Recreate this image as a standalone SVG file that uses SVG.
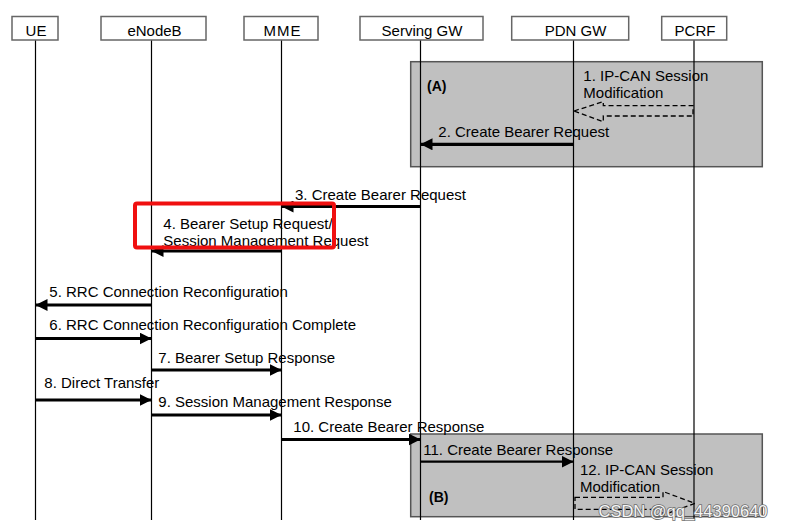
<svg xmlns="http://www.w3.org/2000/svg" width="786" height="530" viewBox="0 0 786 530">
<defs>
<style>
text{font-family:"Liberation Sans",Arial,sans-serif;font-size:15px;fill:#000}
.hdr rect{fill:#fff;stroke:#666;stroke-width:1.5}
.hdr text{text-anchor:middle}
.life{stroke:#000;stroke-width:1.2}
.region{fill:#c0c0c0;stroke:#555;stroke-width:1.5}
.msg{stroke:#000;stroke-width:3.2;fill:none;marker-end:url(#ah)}
.thin{stroke-width:2.3}
.dash{fill:none;stroke:#000;stroke-width:1.3;stroke-dasharray:5 3}
.bold{font-weight:bold;font-size:14px}
.wm{font-size:16.5px;fill:#f6f6f6;stroke:#6e6e6e;stroke-width:1.6;paint-order:stroke}
</style>
<marker id="ah" markerUnits="userSpaceOnUse" markerWidth="12" markerHeight="12" refX="12" refY="6" orient="auto">
<path d="M0,0 L12,6 L0,12 z" fill="#000"/>
</marker>
</defs>
<rect width="786" height="530" fill="#fff"/>

<g id="region-A">
<rect class="region" x="410.7" y="61.7" width="351.6" height="105"/>
<text class="bold" x="427" y="91">(A)</text>
</g>
<g id="region-B">
<rect class="region" x="410.7" y="434" width="351.6" height="82.7"/>
<text class="bold" x="429" y="501.7">(B)</text>
</g>

<g id="lifelines">
<line class="life" x1="35.5" y1="40" x2="35.5" y2="520"/>
<line class="life" x1="151.5" y1="40" x2="151.5" y2="520"/>
<line class="life" x1="281.5" y1="40" x2="281.5" y2="520"/>
<line class="life" x1="420.5" y1="40" x2="420.5" y2="520"/>
<line class="life" x1="573.5" y1="40" x2="573.5" y2="520"/>
<line class="life" x1="694" y1="40" x2="694" y2="520"/>
</g>

<g id="UE" class="hdr"><rect x="12" y="16.5" width="46" height="23.5"/><text x="36" y="36">UE</text></g>
<g id="eNodeB" class="hdr"><rect x="101" y="16.5" width="105" height="23.5"/><text x="154.5" y="36">eNodeB</text></g>
<g id="MME" class="hdr"><rect x="244" y="16.5" width="74" height="23.5"/><text x="282.5" y="36" letter-spacing="1">MME</text></g>
<g id="ServingGW" class="hdr"><rect x="360" y="16.5" width="123" height="23.5"/><text x="422" y="36">Serving GW</text></g>
<g id="PDNGW" class="hdr"><rect x="511.7" y="16.5" width="117" height="23.5"/><text x="575.5" y="36">PDN GW</text></g>
<g id="PCRF" class="hdr"><rect x="661.7" y="16.5" width="65" height="23.5"/><text x="695" y="36">PCRF</text></g>

<g id="connectors">
<path class="dash" d="M574,111 L603.3,101.7 L603.3,105.7 L693,105.7 L693,116 L603.3,116 L603.3,121.7 Z"/>
<line class="msg" x1="573.5" y1="144.3" x2="420.5" y2="144.3"/>
<line class="msg" x1="420.5" y1="206.5" x2="281.5" y2="206.5"/>
<line class="msg" x1="281.5" y1="251" x2="151.5" y2="251"/>
<line class="msg" x1="151.5" y1="305" x2="35.5" y2="305"/>
<line class="msg" x1="35.5" y1="338.5" x2="151.5" y2="338.5"/>
<line class="msg" x1="151.5" y1="370" x2="281.5" y2="370"/>
<line class="msg" x1="35.5" y1="400" x2="151.5" y2="400"/>
<line class="msg" x1="151.5" y1="415" x2="281.5" y2="415"/>
<line class="msg" x1="281.5" y1="439.5" x2="420.5" y2="439.5"/>
<line class="msg thin" x1="420.5" y1="461.7" x2="573.5" y2="461.7"/>
<path class="dash" d="M575,497.3 L663,497.3 L663,491.5 L695,503.3 L663,515 L663,509.3 L575,509.3 Z"/>
</g>

<g id="labels">
<text x="583.3" y="81">1. IP-CAN Session</text>
<text x="583.3" y="97.5">Modification</text>
<text x="438.3" y="136.7">2. Create Bearer Request</text>
<text x="295" y="200">3. Create Bearer Request</text>
<text x="163.3" y="229.3">4. Bearer Setup Request/</text>
<text x="163.3" y="246">Session Management Request</text>
<text x="49.3" y="296.7">5. RRC Connection Reconfiguration</text>
<text x="49.3" y="330">6. RRC Connection Reconfiguration Complete</text>
<text x="158.3" y="362.7">7. Bearer Setup Response</text>
<text x="44.3" y="388.3">8. Direct Transfer</text>
<text x="158.3" y="406.5">9. Session Management Response</text>
<text x="293.3" y="431.7">10. Create Bearer Response</text>
<text x="423.3" y="455">11. Create Bearer Response</text>
<text x="580" y="475">12. IP-CAN Session</text>
<text x="580" y="492.3">Modification</text>
</g>

<rect id="highlight" x="135" y="203.5" width="199" height="44" rx="2" fill="none" stroke="#f01010" stroke-width="4"/>

<text class="wm" x="598.5" y="517">CSDN @qq_44390640</text>
</svg>
